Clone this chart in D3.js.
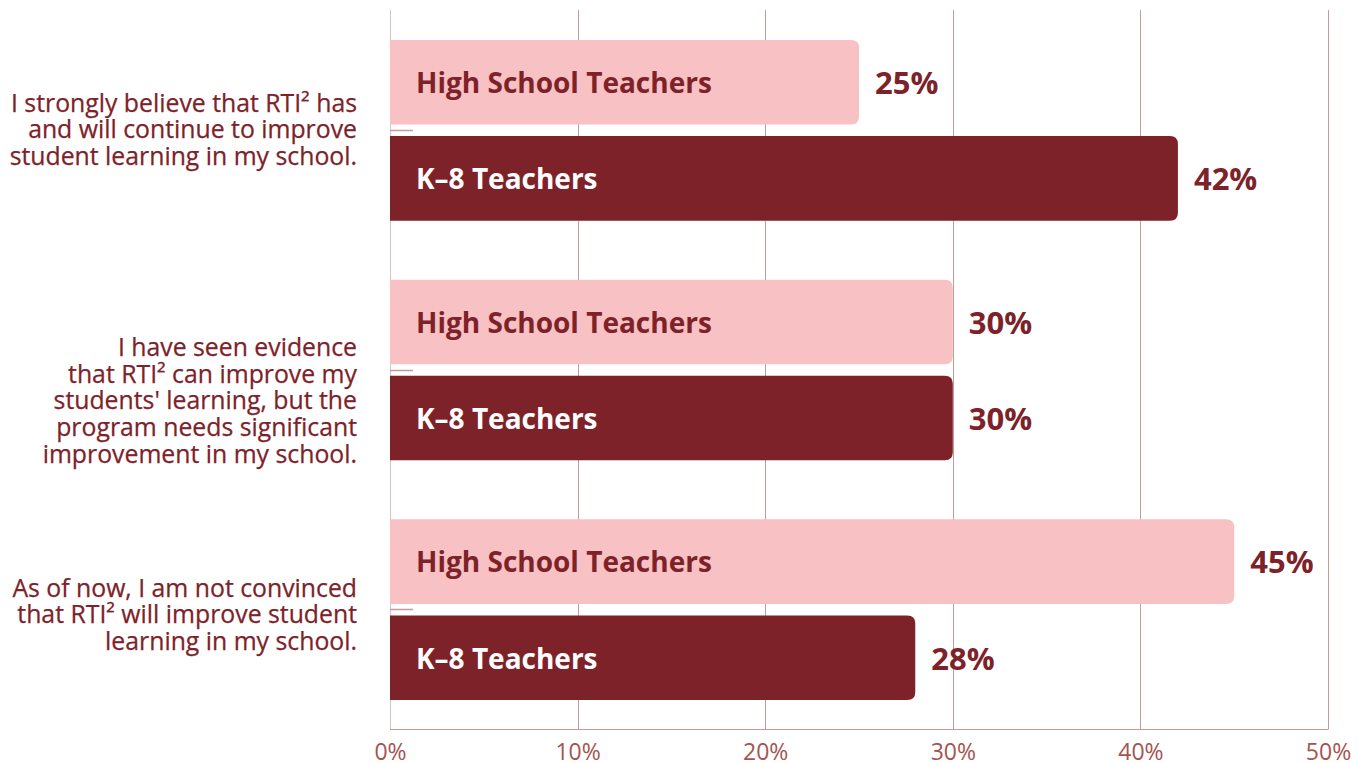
<!DOCTYPE html>
<html>
<head>
<meta charset="utf-8">
<script src="https://cdn.jsdelivr.net/npm/d3@7"></script>
<style>
  html, body { margin: 0; padding: 0; background: #ffffff; }
  svg { display: block; }
</style>
</head>
<body>
<svg id="chart" width="1358" height="763"></svg>
<script>
const categories = [
  ["I strongly believe that RTI² has", "and will continue to improve", "student learning in my school."],
  ["I have seen evidence", "that RTI² can improve my", "students' learning, but the", "program needs significant", "improvement in my school."],
  ["As of now, I am not convinced", "that RTI² will improve student", "learning in my school."]
];
const seriesNames = ["High School Teachers", "K–8 Teachers"];
const highSchool = [25, 30, 45];
const k8 = [42, 30, 28];
const xTicks = [0, 10, 20, 30, 40, 50];

(function () {
const dark = "#7e2229";
const light = "#f8c1c3";
const gridColor = "#c49a9a";
const tickText = "#a55450";

const svg = d3.select("#chart");
const pLeft = 390, pRight = 1328, pTop = 10, pBottom = 729;

const x = d3.scaleLinear().domain([0, 50]).range([pLeft, pRight]);
const y0 = d3.scaleBand().domain(d3.range(categories.length)).range([pTop, pBottom]).padding(0);
const y1 = d3.scaleBand().domain(seriesNames).range([30, y0.bandwidth() - 29]).paddingInner(0.12).paddingOuter(0);

// grid lines
svg.append("g").selectAll("line").data(xTicks).join("line")
  .attr("x1", d => Math.round(x(d)) + 0.5).attr("x2", d => Math.round(x(d)) + 0.5)
  .attr("y1", pTop).attr("y2", pBottom)
  .attr("stroke", (d, i) => i === 0 ? "#dcc3c3" : gridColor).attr("stroke-width", 1);

// bottom axis
const xAxis = svg.append("g").attr("transform", `translate(0,${pBottom + 0.5})`)
  .call(d3.axisBottom(x).tickValues(xTicks).tickSize(0).tickPadding(14).tickFormat(d => d + "%"));
xAxis.select(".domain").attr("stroke", gridColor).attr("d", `M${pLeft},0H${pRight + 0.5}`);
xAxis.selectAll("text").attr("fill", tickText).attr("font-family", "'Open Sans', sans-serif")
  .attr("font-size", 23).attr("dy", "0.71em");

// left small ticks at group centers
svg.append("g").selectAll("line").data(d3.range(categories.length)).join("line")
  .attr("x1", pLeft).attr("x2", pLeft + 23)
  .attr("y1", i => Math.round(y0(i) + y0.bandwidth() / 2) + 0.5)
  .attr("y2", i => Math.round(y0(i) + y0.bandwidth() / 2) + 0.5)
  .attr("stroke", gridColor).attr("stroke-width", 1.5);

// rounded-right bar path
function barPath(x0, yTop, w, h, r) {
  r = Math.min(r, w, h / 2);
  return `M${x0},${yTop}H${x0 + w - r}Q${x0 + w},${yTop} ${x0 + w},${yTop + r}` +
         `V${yTop + h - r}Q${x0 + w},${yTop + h} ${x0 + w - r},${yTop + h}H${x0}Z`;
}

const rows = [];
categories.forEach((c, i) => {
  rows.push({ g: i, s: seriesNames[0], v: highSchool[i], fill: light, text: dark });
  rows.push({ g: i, s: seriesNames[1], v: k8[i], fill: dark, text: "#ffffff" });
});

const bars = svg.append("g").selectAll("g").data(rows).join("g");
bars.append("path")
  .attr("d", d => barPath(x(0), y0(d.g) + y1(d.s), x(d.v) - x(0), y1.bandwidth(), 8))
  .attr("fill", d => d.fill);
bars.append("text")
  .attr("x", x(0) + 26)
  .attr("y", d => y0(d.g) + y1(d.s) + y1.bandwidth() / 2 + 1)
  .attr("dy", "0.35em")
  .attr("fill", d => d.text)
  .attr("font-family", "'Open Sans', sans-serif").attr("font-weight", 700).attr("font-size", 28)
  .text(d => d.s);
bars.append("text")
  .attr("x", d => x(d.v) + 16)
  .attr("y", d => y0(d.g) + y1(d.s) + y1.bandwidth() / 2 + 1)
  .attr("dy", "0.35em")
  .attr("fill", dark)
  .attr("font-family", "'Open Sans', sans-serif").attr("font-weight", 700).attr("font-size", 31)
  .text(d => d.v + "%");

// category labels
const lineH = 26.6;
const labelShift = [-3, 2, 3];
const labels = svg.append("g").selectAll("text").data(categories).join("text")
  .attr("text-anchor", "end")
  .attr("fill", dark)
  .attr("font-family", "'Open Sans', sans-serif").attr("font-size", 24.8)
  .attr("stroke", dark).attr("stroke-width", 0.25);
labels.each(function(lines, i) {
  const c = y0(i) + y0.bandwidth() / 2;
  const firstY = c - 24 + labelShift[i];
  d3.select(this).selectAll("tspan").data(lines).join("tspan")
    .attr("x", 357)
    .attr("y", (d, k) => firstY + k * lineH)
    .attr("dy", "0.35em")
    .text(d => d);
});
})();
</script>
</body>
</html>
